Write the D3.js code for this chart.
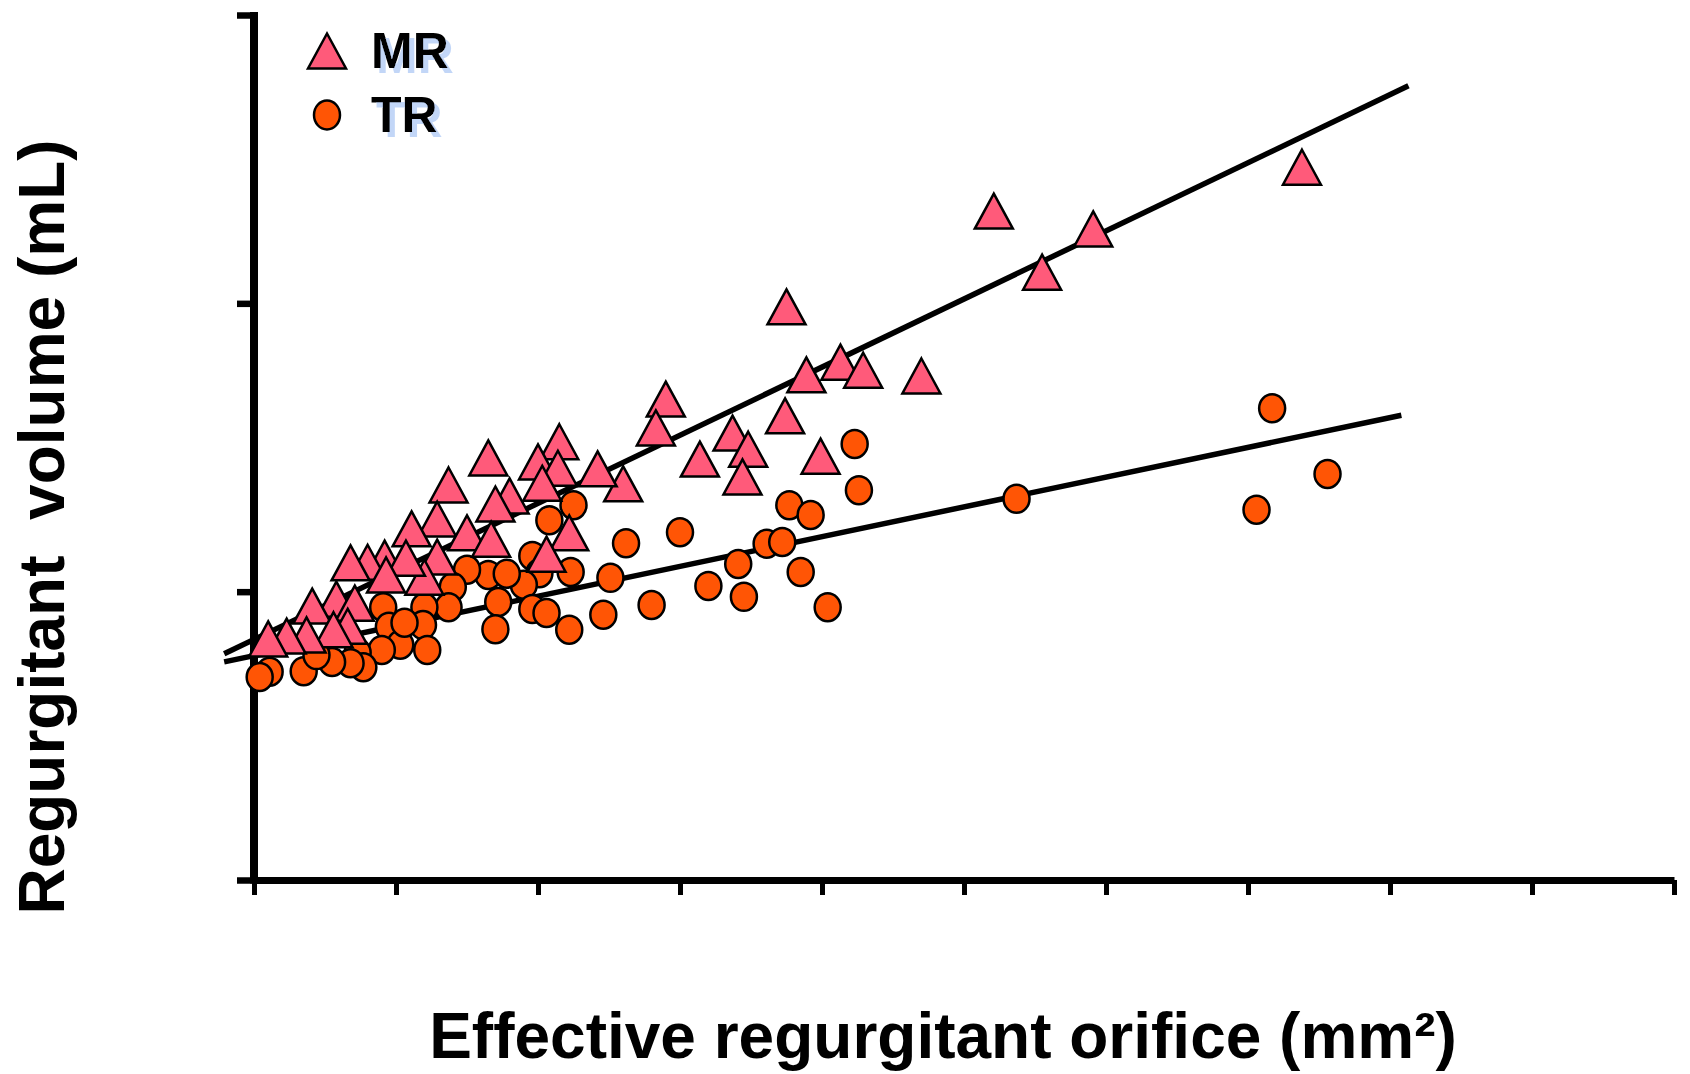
<!DOCTYPE html>
<html lang="en">
  <head>
    <meta charset='utf-8'>
    <script src='https://d3js.org/d3.v7.min.js'></script>
    <title>Regurgitant volume vs EROA</title>
    <style>
      body {
        margin: 0px;
        background: #fff;
      }
      .axis-label, .legend-label {
        font-family: 'Liberation Sans', Arial, sans-serif;
        font-weight: bold;
        fill: #000;
      }
    </style>
  </head>
  <body>
    <div id='viz'></div>
    <script>
      // mitral regurgitation (triangles)
      const mrEroa = [73.8, 52.1, 59.1, 55.5, 37.5, 41.3, 42.9, 38.9, 47.0, 29.0,
                      28.3, 37.4, 33.7, 34.8, 31.4, 34.4, 39.9, 26.0, 24.2, 21.5,
                      20.0, 21.4, 20.3, 16.5, 13.7, 18.0, 17.0, 12.9, 11.1, 15.0,
                      16.7, 22.2, 20.6, 12.9, 12.0, 9.2, 8.0, 6.8, 10.7, 9.3,
                      5.8, 7.1, 4.1, 6.6, 5.6, 3.7, 2.3, 1.0];
      const mrVolume = [123.6, 116.0, 112.9, 105.4, 99.4, 89.8, 88.4, 87.6, 87.4, 83.4,
                        78.4, 80.5, 77.5, 74.7, 73.0, 69.9, 73.5, 68.7, 71.3, 76.0,
                        72.5, 71.4, 68.8, 73.2, 68.5, 66.6, 65.2, 62.6, 60.9, 60.2,
                        59.1, 60.2, 56.5, 56.0, 52.5, 55.8, 55.1, 55.0, 55.8, 52.9,
                        48.7, 48.0, 47.5, 44.0, 43.4, 42.5, 42.3, 41.8];

      // tricuspid regurgitation (circles)
      const trEroa = [71.7, 75.6, 70.6, 53.7, 42.3, 42.6, 37.7, 39.2, 36.1, 37.2,
                      34.1, 38.5, 32.0, 34.5, 40.4, 30.0, 26.2, 22.5, 20.8, 28.0,
                      25.1, 24.6, 22.2, 22.3, 19.6, 20.1, 19.0, 16.5, 17.8, 17.2,
                      19.6, 20.6, 17.0, 15.0, 14.0, 13.7, 12.0, 9.1, 11.9, 9.5,
                      12.2, 10.3, 9.0, 7.3, 7.7, 6.8, 5.5, 3.5, 1.1, 0.4,
                      4.4, 10.6];
      const trVolume = [81.8, 70.4, 64.2, 66.1, 75.6, 67.6, 65.0, 63.3, 58.3, 58.6,
                        54.8, 53.4, 51.0, 49.1, 47.3, 60.3, 58.4, 65.0, 62.4, 47.7,
                        52.4, 46.0, 43.4, 53.4, 56.2, 53.2, 51.2, 52.9, 53.1, 48.2,
                        47.0, 46.3, 43.5, 53.8, 50.8, 47.3, 47.3, 47.3, 44.2, 43.9,
                        39.9, 40.8, 39.9, 39.4, 36.9, 37.6, 37.8, 36.2, 36.1, 35.2,
                        39.0, 44.6];

      // regression lines: [intercept, slope, xStart, xEnd]
      const mrFit = [41.7, 1.181, -2.1, 81.3];
      const trFit = [38.9, 0.516, -2.1, 80.8];

      const xTicks = [0, 10, 20, 30, 40, 50, 60, 70, 80, 90, 100];
      const yTicks = [0, 50, 100, 150];

      const legendNames = ['MR', 'TR'];

      const width = 1690;
      const height = 1074;
      const margin = { left: 254, right: 16, top: 15, bottom: 194 };

      const svg = d3.select('#viz').append('svg')
        .attr('width', width)
        .attr('height', height);

      // light blue drop shadow behind the legend words
      const shadow = svg.append('defs').append('filter')
        .attr('id', 'shadow')
        .attr('x', '-10%').attr('y', '-10%')
        .attr('width', '130%').attr('height', '130%');
      shadow.append('feFlood').attr('flood-color', '#c2d6f7').attr('result', 'c');
      shadow.append('feComposite').attr('in', 'c').attr('in2', 'SourceAlpha')
        .attr('operator', 'in').attr('result', 's');
      shadow.append('feOffset').attr('in', 's').attr('dx', 5).attr('dy', 5).attr('result', 'o');
      const merge = shadow.append('feMerge');
      merge.append('feMergeNode').attr('in', 'o');
      merge.append('feMergeNode').attr('in', 'SourceGraphic');

      const xScale = d3.scaleLinear()
        .domain([0, 100])
        .range([margin.left, width - margin.right]);
      const yScale = d3.scaleLinear()
        .domain([0, 150])
        .range([height - margin.bottom, margin.top]);

      // fit lines underneath the markers
      const line = d3.line()
        .x(d => xScale(d[0]))
        .y(d => yScale(d[1]));

      [mrFit, trFit].forEach(f => {
        const pts = [f[2], f[3]].map(x => [x, f[0] + f[1] * x]);
        svg.append('path')
          .attr('d', line(pts))
          .attr('fill', 'none')
          .attr('stroke', '#000')
          .attr('stroke-width', 5.5);
      });

      // axes
      const xAxisG = svg.append('g')
        .attr('transform', `translate(0,${yScale(0)})`)
        .call(d3.axisBottom(xScale).tickValues(xTicks).tickSize(15).tickSizeOuter(0).tickFormat(''));
      xAxisG.select('.domain').attr('stroke-width', 7);
      xAxisG.selectAll('.tick line').attr('stroke-width', 5);

      const yAxisG = svg.append('g')
        .attr('transform', `translate(${xScale(0)},0)`)
        .call(d3.axisLeft(yScale).tickValues(yTicks).tickSize(17).tickSizeOuter(0).tickFormat(''));
      yAxisG.select('.domain').attr('stroke-width', 8)
        .attr('d', `M0,${yScale(0) + 3.5}V${yScale(150) - 3}`);
      yAxisG.selectAll('.tick line').attr('stroke-width', 6.5);

      const triangle = 'M0,-17.5L19,17.5L-19,17.5Z';

      // TR circles
      svg.append('g').selectAll('ellipse')
        .data(d3.range(trEroa.length))
        .join('ellipse')
          .attr('cx', i => xScale(trEroa[i]))
          .attr('cy', i => yScale(trVolume[i]))
          .attr('rx', 13)
          .attr('ry', 14)
          .attr('fill', '#ff5505')
          .attr('stroke', '#000')
          .attr('stroke-width', 2.5);

      // MR triangles
      svg.append('g').selectAll('path')
        .data(d3.range(mrEroa.length))
        .join('path')
          .attr('d', triangle)
          .attr('transform', i => `translate(${xScale(mrEroa[i])},${yScale(mrVolume[i])})`)
          .attr('fill', '#ff5a7a')
          .attr('stroke', '#000')
          .attr('stroke-width', 2.5)
          .attr('stroke-linejoin', 'miter');

      // legend
      const legend = svg.append('g');
      legend.append('path')
        .attr('d', triangle)
        .attr('transform', 'translate(327,51)')
        .attr('fill', '#ff5a7a')
        .attr('stroke', '#000')
        .attr('stroke-width', 2.5);
      legend.append('ellipse')
        .attr('cx', 327).attr('cy', 115)
        .attr('rx', 13).attr('ry', 14.5)
        .attr('fill', '#ff5505')
        .attr('stroke', '#000')
        .attr('stroke-width', 2.5);

      legendNames.forEach((name, i) => {
        legend.append('text')
          .attr('class', 'legend-label')
          .attr('x', 371).attr('y', 68 + i * 64)
          .attr('filter', 'url(#shadow)')
          .style('font-size', '50px')
          .text(name);
      });

      // axis titles
      svg.append('text')
        .attr('class', 'axis-label')
        .attr('x', 943)
        .attr('y', 1058)
        .attr('text-anchor', 'middle')
        .style('font-size', '64px')
        .text('Effective regurgitant orifice (mm²)');

      svg.append('text')
        .attr('class', 'axis-label')
        .attr('transform', 'translate(64,527) rotate(-90)')
        .attr('text-anchor', 'middle')
        .style('font-size', '64px')
        .style('white-space', 'pre')
        .text('Regurgitant  volume (mL)');
    </script>
  </body>
</html>
